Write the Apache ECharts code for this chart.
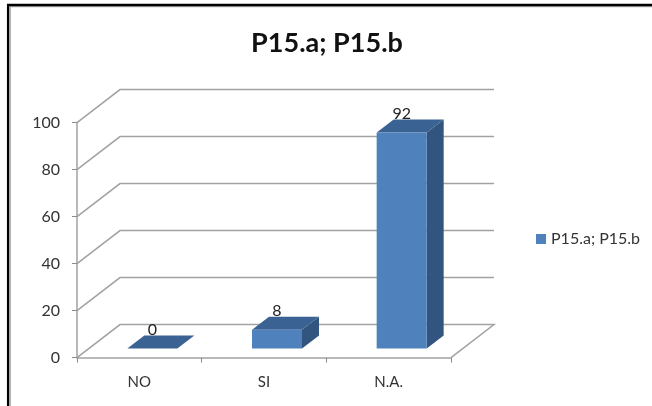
<!DOCTYPE html>
<html><head><meta charset="utf-8">
<style>html,body{margin:0;padding:0;background:#fff}#c{width:652px;height:406px}</style>
<script src="https://cdn.jsdelivr.net/npm/echarts@6/dist/echarts.min.js"></script>
</head><body><div id="c"></div>
<script>
const categories = ['NO', 'SI', 'N.A.'];
const values = [0, 8, 92];
const seriesName = 'P15.a; P15.b';
const titleText = 'P15.a; P15.b';
const yTicks = [0, 20, 40, 60, 80, 100];

const FONT = 'Lato, "Open Sans", sans-serif';
const WALL = { dx: 43, dy: -33 };
const FLOOR = { dx: 13, dy: -9 };
const DEPTH = { dx: 17, dy: -13 };
const BAR_W = 50;
const GRID_C = '#a2a2a2';
const chart = echarts.init(document.getElementById('c'));

function wall(params, api) {
  const v = api.value(1);
  const cw = api.size([1, 0])[0];
  const p = api.coord([0, v]);
  const xL = p[0] - cw / 2, xR = xL + cw * categories.length, y = p[1];
  const pts = [[xL, y], [xL + WALL.dx, y + WALL.dy], [xR + WALL.dx, y + WALL.dy]];
  if (v === 0) pts.push([xR, y]);
  return { type: 'polyline', shape: { points: pts },
    style: { fill: null, stroke: GRID_C, lineWidth: 1.5 } };
}
function bar3d(params, api) {
  const i = api.value(0), v = api.value(1);
  const t = api.coord([i, v]), b = api.coord([i, 0]);
  const x0 = t[0] + FLOOR.dx - BAR_W / 2, x1 = x0 + BAR_W;
  const yT = t[1] + FLOOR.dy, yB = b[1] + FLOOR.dy;
  const d = DEPTH;
  return { type: 'group', children: [
    { type: 'polygon', shape: { points: [[x1, yT], [x1 + d.dx, yT + d.dy], [x1 + d.dx, yB + d.dy], [x1, yB]] },
      style: { fill: '#325580' } },
    { type: 'polygon', shape: { points: [[x0, yT], [x0 + d.dx, yT + d.dy], [x1 + d.dx, yT + d.dy], [x1, yT]] },
      style: { fill: '#3a6292' } },
    { type: 'rect', shape: { x: x0, y: yT, width: BAR_W, height: yB - yT },
      style: { fill: '#4f81bd' } },
    { type: 'text', style: { text: String(v), x: (x0 + x1) / 2, y: yT + d.dy - 6,
        align: 'center', verticalAlign: 'middle', fill: '#222', font: '16px ' + FONT } }
  ] };
}
chart.setOption({
  animation: false,
  backgroundColor: '#fff',
  title: { text: titleText, left: 322, top: 25, textAlign: 'center',
    textStyle: { fontFamily: FONT, fontSize: 27, fontWeight: 'bold', color: '#111' } },
  legend: { data: [seriesName], left: 531, top: 226, icon: 'rect', itemWidth: 10, itemHeight: 10, itemGap: 5,
    textStyle: { fontFamily: FONT, fontSize: 16, color: '#333' } },
  grid: { left: 77, right: 201, top: 122.6, bottom: 48.4 },
  xAxis: { type: 'category', data: categories,
    axisLine: { lineStyle: { color: GRID_C, width: 1.5 } },
    axisTick: { show: true, length: 5, lineStyle: { color: '#8a8a8a' } },
    axisLabel: { fontFamily: FONT, fontSize: 15, color: '#333', margin: 17 } },
  yAxis: { type: 'value', min: 0, max: 100, interval: 20,
    splitLine: { show: false },
    axisLine: { show: true, lineStyle: { color: GRID_C, width: 1.5 } },
    axisTick: { show: true, length: 5, lineStyle: { color: '#8a8a8a' } },
    axisLabel: { fontFamily: FONT, fontSize: 16, color: '#333', margin: 17, padding: [3, 0, 0, 0] } },
  series: [
    { type: 'custom', name: 'walls', silent: true, z: 1, clip: false, renderItem: wall,
      data: yTicks.map(v => [0, v]) },
    { type: 'custom', name: seriesName, z: 3, clip: false, renderItem: bar3d,
      itemStyle: { color: '#4f81bd' },
      data: values.map((v, i) => [i, v]) }
  ],
  graphic: [
    { type: 'polyline', z: 9, shape: { points: [[10.3, 406], [10.3, 6.7], [652, 6.7]] },
      style: { fill: null, stroke: '#b0b0b0', lineWidth: 1.3 } },
    { type: 'polyline', z: 10, shape: { points: [[8.1, 406], [8.1, 5], [652, 5]] },
      style: { fill: null, stroke: '#000', lineWidth: 2.3 } }
  ]
});
</script></body></html>
